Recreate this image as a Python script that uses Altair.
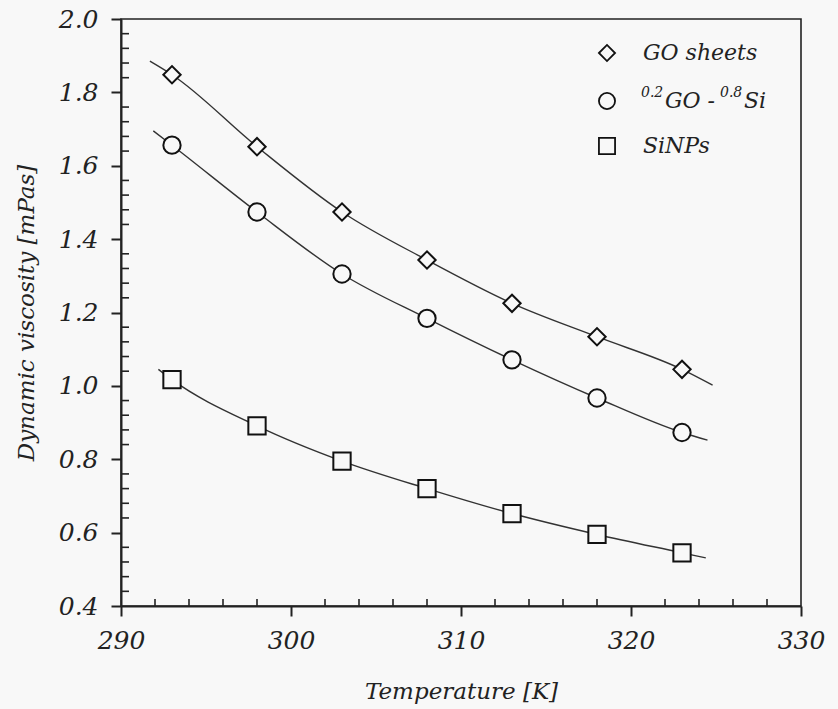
import altair as alt
import pandas as pd

# ---- data ----
temperature = [293, 298, 303, 308, 313, 318, 323]
go_sheets = [1.848, 1.652, 1.474, 1.343, 1.225, 1.134, 1.045]
hybrid = [1.656, 1.474, 1.305, 1.184, 1.071, 0.967, 0.873]
sinps = [1.017, 0.891, 0.795, 0.720, 0.652, 0.595, 0.545]

# ends of the fitted curves
curve_start_T = [291.7, 291.9, 292.2]
curve_start_v = [1.885, 1.695, 1.045]
curve_end_T = [324.8, 324.5, 324.4]
curve_end_v = [1.002, 0.852, 0.531]

series_names = ["GO sheets", "0.2GO - 0.8Si", "SiNPs"]
shapes = ["diamond", "circle", "square"]

x_ticks = [290, 300, 310, 320, 330]
y_ticks = [0.4, 0.6, 0.8, 1.0, 1.2, 1.4, 1.6, 1.8, 2.0]
x_minor = [292, 294, 296, 298, 302, 304, 306, 308, 312, 314, 316, 318,
           322, 324, 326, 328]
y_minor = [0.44, 0.48, 0.52, 0.56, 0.64, 0.68, 0.72, 0.76, 0.84, 0.88, 0.92, 0.96,
           1.04, 1.08, 1.12, 1.16, 1.24, 1.28, 1.32, 1.36, 1.44, 1.48, 1.52, 1.56,
           1.64, 1.68, 1.72, 1.76, 1.84, 1.88, 1.92, 1.96]

# ---- tables ----
all_values = [go_sheets, hybrid, sinps]
pts = pd.DataFrame([
    {"T": t, "v": v, "series": name}
    for name, vals in zip(series_names, all_values)
    for t, v in zip(temperature, vals)
])
curve_rows = []
for i, (name, vals) in enumerate(zip(series_names, all_values)):
    ts = [curve_start_T[i]] + temperature + [curve_end_T[i]]
    vs = [curve_start_v[i]] + vals + [curve_end_v[i]]
    for t, v in zip(ts, vs):
        curve_rows.append({"T": t, "v": v, "series": name})
curves = pd.DataFrame(curve_rows)
xminor_df = pd.DataFrame({"T": x_minor})
yminor_df = pd.DataFrame({"v": y_minor})
one = pd.DataFrame({"k": [0]})

W, H = 680, 587
INK = "#222222"
BG = "#f8f8f8"
FONT = "DejaVu Serif"

x_scale = alt.Scale(domain=[290, 330], nice=False, zero=False)
y_scale = alt.Scale(domain=[0.4, 2.0], nice=False, zero=False)

x_axis = alt.Axis(values=x_ticks, format="d", title="Temperature [K]",
                  labelPadding=12, titlePadding=27, labelFlush=False, labelOverlap=False)
y_axis = alt.Axis(values=y_ticks, format=".1f", title="Dynamic viscosity [mPas]",
                  labelPadding=13, titlePadding=20, labelOverlap=False)

X = alt.X("T:Q", scale=x_scale, axis=x_axis)
Y = alt.Y("v:Q", scale=y_scale, axis=y_axis)

lines = alt.Chart(curves).mark_line(
    interpolate="monotone", color="#333333", strokeWidth=1.4
).encode(x=X, y=Y, detail="series:N")

points = alt.Chart(pts).mark_point(
    filled=False, fill=BG, fillOpacity=1, stroke="#111111",
    strokeWidth=2, size=300, opacity=1
).encode(
    x=X, y=Y,
    shape=alt.Shape("series:N", scale=alt.Scale(domain=series_names, range=shapes), legend=None),
)

xminor = alt.Chart(xminor_df).mark_rule(color=INK, strokeWidth=1.6).encode(
    x=X, y=alt.value(H), y2=alt.value(H - 7)
)
yminor = alt.Chart(yminor_df).mark_rule(color=INK, strokeWidth=1.6).encode(
    y=Y, x=alt.value(0), x2=alt.value(8)
)

# ---- legend drawn inside the plot ----
LX_SYM, LX_TXT = 486, 522
rows_y = [34, 82, 127]
leg_layers = []
for shape, ry in zip(shapes, rows_y):
    leg_layers.append(
        alt.Chart(one).mark_point(
            shape=shape, filled=False, stroke="#111111", strokeWidth=1.8, size=260, opacity=1
        ).encode(x=alt.value(LX_SYM), y=alt.value(ry))
    )

def txt(s, x, y, size):
    return alt.Chart(one).mark_text(
        text=s, align="left", baseline="middle", font=FONT, fontStyle="italic",
        fontSize=size, color=INK
    ).encode(x=alt.value(x), y=alt.value(y))

leg_layers += [
    txt("GO sheets", LX_TXT, rows_y[0], 22),
    txt("0.2", LX_TXT - 2, rows_y[1] - 8, 14),
    txt("GO -", LX_TXT + 22, rows_y[1], 22),
    txt("0.8", LX_TXT + 77, rows_y[1] - 8, 14),
    txt("Si", LX_TXT + 101, rows_y[1], 22),
    txt("SiNPs", LX_TXT, rows_y[2], 22),
]

chart = alt.layer(xminor, yminor, lines, points, *leg_layers).properties(
    width=W, height=H,
    autosize=alt.AutoSizeParams(type="none"),
    padding={"left": 121, "top": 19, "right": 37, "bottom": 103},
    background=BG,
).configure_view(
    stroke=INK, strokeWidth=1.6
).configure_axis(
    grid=False, domainColor=INK, domainWidth=2, tickColor=INK, tickWidth=2, tickSize=10,
    labelFont=FONT, labelFontStyle="italic", labelFontSize=25, labelColor=INK,
    titleFont=FONT, titleFontStyle="italic", titleFontWeight="normal", titleFontSize=23,
    titleColor=INK,
)

chart.save("out.html", embed_options={"renderer": "svg", "actions": False})
